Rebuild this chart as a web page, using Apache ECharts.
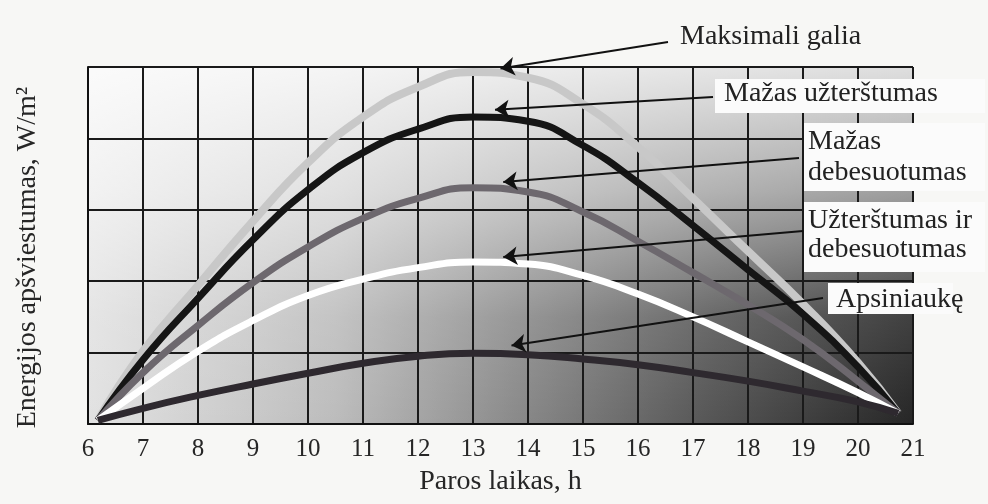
<!DOCTYPE html>
<html>
<head>
<meta charset="utf-8">
<title>Energijos apšviestumas</title>
<script src="https://cdn.jsdelivr.net/npm/echarts@6.0.0/dist/echarts.min.js"></script>
<style>
    html, body { margin: 0; padding: 0; background: #f7f7f5; }
    #chart { width: 988px; height: 504px; }
</style>
</head>
<body>
<div id="chart"></div>
<script>
// hours of the day (curves start a bit after 6 and end just before 21)
var hours = [6.18, 7, 8, 9, 10, 11, 12, 13, 14, 15, 16, 17, 18, 19, 20, 20.73];

// in grid units (no scale printed on the y axis)
var maksimaliGalia = [0.05, 1.02, 1.94, 2.84, 3.66, 4.30, 4.72, 4.93, 4.85, 4.48, 3.88, 3.16, 2.42, 1.68, 0.86, 0.15];
var mazasUzterstumas = [0.05, 0.90, 1.76, 2.58, 3.28, 3.80, 4.13, 4.30, 4.24, 3.90, 3.38, 2.78, 2.16, 1.54, 0.80, 0.15];
var mazasDebesuotumas = [0.05, 0.72, 1.38, 1.98, 2.48, 2.88, 3.16, 3.31, 3.25, 2.97, 2.56, 2.12, 1.67, 1.18, 0.60, 0.15];
var uzterstumasIrDeb = [0.05, 0.50, 1.02, 1.45, 1.80, 2.03, 2.19, 2.27, 2.24, 2.08, 1.82, 1.50, 1.15, 0.80, 0.44, 0.15];
var apsiniauke = [0.05, 0.22, 0.40, 0.56, 0.71, 0.85, 0.95, 0.99, 0.97, 0.91, 0.83, 0.72, 0.60, 0.46, 0.31, 0.15];

var xTicks = [6, 21];
var yTicks = [0, 5];

var FONT = '"Liberation Serif", "Times New Roman", serif';

// plot box in pixels
var G = { left: 88, top: 67, right: 913, bottom: 424 };

function pairs(vals) {
    return hours.map(function (h, i) { return [h, vals[i]]; });
}

// arrow from a pixel point (label) to a point on the curve
function arrow(px, py, tip) {
    return {
        silent: true,
        symbol: ['none', 'arrow'],
        symbolSize: 14,
        label: { show: false },
        lineStyle: { color: '#111', width: 2, type: 'solid' },
        data: [[{ x: px, y: py }, { coord: tip }]]
    };
}

function curve(name, vals, color, width, tail, tip) {
    return {
        name: name,
        type: 'line',
        smooth: 0.5,
        showSymbol: false,
        data: pairs(vals),
        lineStyle: { color: color, width: width },
        emphasis: { disabled: true },
        markLine: arrow(tail[0], tail[1], tip)
    };
}

function label(text, x, y) {
    return { type: 'text', z: 60, silent: true, left: x, top: y,
             style: { text: text, font: '28px ' + FONT, fill: '#222' } };
}

function box(x, y, w, h) {
    return { type: 'rect', z: 50, silent: true, shape: { x: x, y: y, width: w, height: h },
             style: { fill: '#fbfbfb' } };
}

var dom = document.getElementById('chart');
var myChart = echarts.init(dom);

var option = {
    animation: false,
    backgroundColor: '#f7f7f5',
    grid: {
        left: G.left,
        top: G.top,
        right: 988 - G.right,
        bottom: 504 - G.bottom
    },
    xAxis: {
        type: 'value',
        min: xTicks[0],
        max: xTicks[1],
        interval: 1,
        axisLine: { show: true, lineStyle: { color: '#111', width: 2 } },
        axisTick: { show: false },
        axisLabel: { fontFamily: FONT, fontSize: 25, color: '#262626', margin: 13 },
        splitLine: { show: true, lineStyle: { color: '#1a1a1a', width: 2 } },
        name: 'Paros laikas, h',
        nameLocation: 'middle',
        nameGap: 44,
        nameTextStyle: { fontFamily: FONT, fontSize: 28, color: '#262626' }
    },
    yAxis: {
        type: 'value',
        min: yTicks[0],
        max: yTicks[1],
        interval: 1,
        axisLine: { show: true, lineStyle: { color: '#111', width: 2 } },
        axisTick: { show: false },
        axisLabel: { show: false },
        splitLine: { show: true, lineStyle: { color: '#1a1a1a', width: 2 } },
        name: 'Energijos apšviestumas, W/m²',
        nameLocation: 'middle',
        nameGap: 46,
        nameTextStyle: { fontFamily: FONT, fontSize: 28, color: '#262626', padding: [0, 24, 0, 0] }
    },
    graphic: [
        // shaded background of the plot: dark towards the bottom right
        {
            type: 'rect', z: -20, silent: true,
            shape: { x: G.left, y: G.top, width: G.right - G.left, height: G.bottom - G.top },
            style: {
                fill: new echarts.graphic.LinearGradient(0, 0, 1, 0, [
                    { offset: 0, color: '#e2e2e2' },
                    { offset: 0.3, color: '#bcbcbc' },
                    { offset: 0.5, color: '#8e8e8e' },
                    { offset: 0.75, color: '#565656' },
                    { offset: 1, color: '#262626' }
                ])
            }
        },
        {
            type: 'rect', z: -19, silent: true,
            shape: { x: G.left, y: G.top, width: G.right - G.left, height: G.bottom - G.top },
            style: {
                fill: new echarts.graphic.LinearGradient(0, 0, 0, 1, [
                    { offset: 0, color: 'rgba(255,255,255,0.85)' },
                    { offset: 0.35, color: 'rgba(255,255,255,0.55)' },
                    { offset: 0.7, color: 'rgba(255,255,255,0.12)' },
                    { offset: 1, color: 'rgba(255,255,255,0)' }
                ])
            }
        },
        // white boxes behind the labels
        box(715, 79, 270, 34),
        box(804, 123, 181, 68),
        box(804, 202, 181, 70),
        box(828, 283, 125, 31),
        // labels
        label('Maksimali galia', 680, 23),
        label('Mažas užterštumas', 724, 80),
        label('Mažas', 808, 128),
        label('debesuotumas', 808, 159),
        label('Užterštumas ir', 808, 207),
        label('debesuotumas', 808, 236),
        label('Apsiniaukę', 836, 286)
    ],
    series: [
        curve('Maksimali galia', maksimaliGalia, '#c8c8c8', 8, [668, 42], [13.5, 4.98]),
        curve('Mažas užterštumas', mazasUzterstumas, '#151515', 7, [713, 97], [13.4, 4.4]),
        curve('Mažas debesuotumas', mazasDebesuotumas, '#6d686e', 7, [799, 158], [13.55, 3.39]),
        curve('Užterštumas ir debesuotumas', uzterstumasIrDeb, '#ffffff', 7, [803, 231], [13.55, 2.34]),
        curve('Apsiniaukę', apsiniauke, '#2e292f', 7, [823, 298], [13.7, 1.1])
    ]
};

if (option && typeof option === 'object') {
    myChart.setOption(option, true);
}
</script>
</body>
</html>
